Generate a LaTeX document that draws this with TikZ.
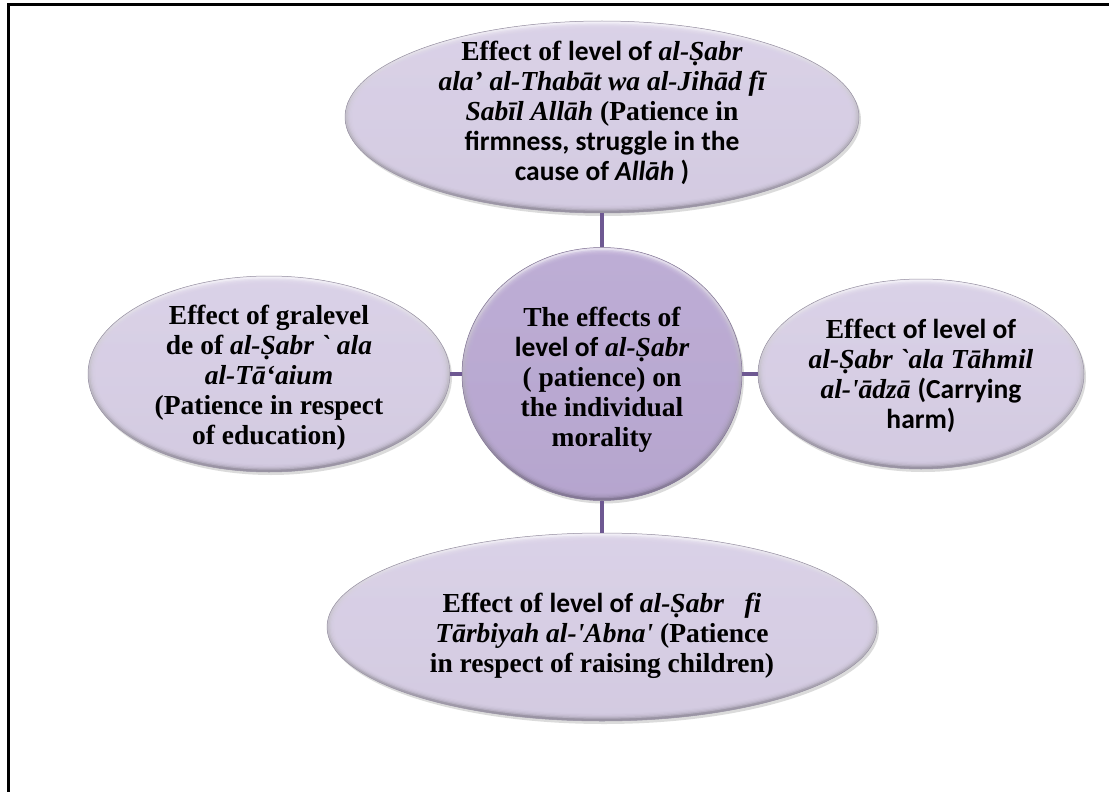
\documentclass[tikz,border=0pt]{standalone}
\usepackage{fontspec}
\newfontfamily\tnr{Liberation Serif}
\newfontfamily\calib{Carlito}
\usetikzlibrary{shapes.geometric,shadows,calc}

\definecolor{lilac}{HTML}{D9D0E7}
\definecolor{lilacdeep}{HTML}{BBAAD4}
\definecolor{stemcol}{HTML}{6E5892}

% mixed-font runs inside the labels
\newcommand\calpart[1]{{\calib #1}}
\newcommand\itpart[1]{{\itshape #1}}

\tikzset{
  bubble/.style={
    ellipse, inner sep=0pt, fill=#1, draw=#1!70!black, line width=0.5pt,
    drop shadow={opacity=0.28, shadow xshift=2pt, shadow yshift=-3pt},
    path picture={
      \shade[top color=#1!35!white, bottom color=#1!70!black]
        (path picture bounding box.south west) rectangle (path picture bounding box.north east);
      \foreach \k in {1,...,5}{
        \fill[#1, opacity=0.4] let \p1=($(path picture bounding box.north east)-(path picture bounding box.center)$)
          in (path picture bounding box.center) ellipse ({\x1-\k*1.3pt-1pt} and {\y1-\k*1.3pt-1pt});
      }
    }
  },
  bubbletext/.style={font=\tnr\bfseries\fontsize{27.5}{30}\selectfont, align=center, inner sep=0pt, text=black},
  stem/.style={draw=stemcol, line width=4.5pt}
}

\begin{document}
\begin{tikzpicture}[x=1pt,y=-1pt]
  \useasboundingbox (0,0) rectangle (1109,792);
  \fill[white] (0,0) rectangle (1109,792);

  % frame
  \draw[line width=3pt] (8,792) -- (8,5) -- (1109,5);

  % shapes
  \node[bubble=lilac, minimum width=514pt, minimum height=192pt] (top) at (602,117) {};
  \node[bubble=lilac, minimum width=362pt, minimum height=196pt] (left) at (269,374) {};
  \node[bubble=lilac, minimum width=326pt, minimum height=190pt] (right) at (921,374) {};
  \node[bubble=lilac, minimum width=550pt, minimum height=188pt] (bottom) at (602,627) {};
  \node[bubble=lilacdeep, minimum width=280pt, minimum height=253pt] (hub) at (602,374) {};

  % connectors
  \draw[stem] (top) -- (hub);
  \draw[stem] (left) -- (hub);
  \draw[stem] (hub) -- (right);
  \draw[stem] (hub) -- (bottom);

  % labels
  \node[bubbletext] (toptext) at (602,113) {%
    Effect of \calpart{level of} \itpart{al-Ṣabr}\\
    \itpart{ala’ al-Thabāt wa al-Jihād fī}\\
    \itpart{Sabīl Allāh} (Patience in\\
    \calpart{firmness, struggle in the}\\
    \calpart{cause of \itshape Allāh \upshape)}};

  \node[bubbletext] (lefttext) at (269,378) {%
    Effect of gralevel\\
    de of \itpart{al-Ṣabr ` ala}\\
    \itpart{al-Tā‘aium}\\
    (Patience in respect\\
    of education)};

  \node[bubbletext] (hubtext) at (602,380) {%
    The effects of\\
    \calpart{level of} \itpart{al-Ṣabr}\\
    ( patience) on\\
    the individual\\
    morality};

  \node[bubbletext] (righttext) at (921,376) {%
    Effect \calpart{of level of}\\
    \itpart{al-Ṣabr `ala Tāhmil}\\
    \itpart{al-'ādzā} \calpart{(Carrying}\\
    \calpart{harm)}};

  \node[bubbletext] (bottomtext) at (602,636) {%
    Effect of \calpart{level of} \itpart{al-Ṣabr\ \ \ fi}\\
    \itpart{Tārbiyah al-'Abna'} (Patience\\
    in respect of raising children)};
\end{tikzpicture}
\end{document}
